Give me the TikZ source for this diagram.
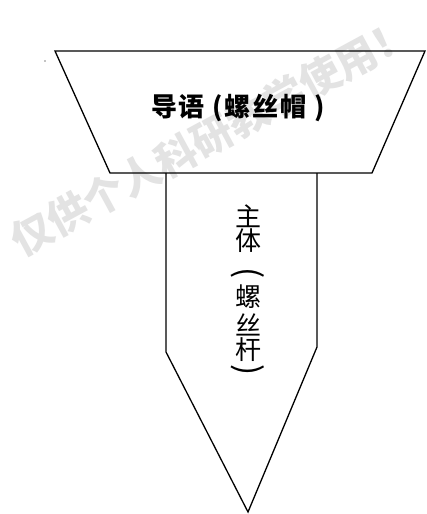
\documentclass[tikz,border=0pt]{standalone}
\usepackage{fontspec}
\newfontfamily\cjk{Noto Sans CJK SC}
\begin{document}
\begin{tikzpicture}[x=1pt,y=-1pt,
  outline/.style={draw=black,line width=1.3pt,line join=miter},
  label/.style={font=\cjk\bfseries\fontsize{26}{26}\selectfont\addfontfeature{LetterSpace=7},inner sep=0pt},
  vchar/.style={font=\cjk\fontsize{26}{26}\selectfont,inner sep=0pt},
  vparen/.style={font=\cjk\fontsize{33}{33}\selectfont,inner sep=0pt,rotate=-90},
  wmark/.style={font=\cjk\bfseries\fontsize{41}{41}\selectfont,text=black!11,inner sep=0pt}]
\useasboundingbox (0,0) rectangle (426,514);
\fill[white] (0,0) rectangle (426,514);
% watermark
\node[wmark,rotate=28.5] (wm) at (212,136) {仅供个人科研教学使用！};
% nut (cap)
\draw[outline] (55,51) -- (425,51) -- (372,173) -- (110,173) -- cycle;
% shaft
\draw[outline] (166,173) -- (166,352) -- (248,512) -- (317,347) -- (317,173);
% texts
\node[label] (cap) at (238,108) {导语 (螺丝帽 )};
\node[vchar] (c1) at (248,216) {主};
\node[vchar] (c2) at (248,241) {体};
\node[vparen] (p1) at (248,273) {(};
\node[vchar] (c3) at (248,297) {螺};
\node[vchar] (c4) at (248,325) {丝};
\node[vchar] (c5) at (248,350) {杆};
\node[vparen] (p2) at (248,370) {)};
\fill (45,61) circle (0.7);
\end{tikzpicture}
\end{document}
